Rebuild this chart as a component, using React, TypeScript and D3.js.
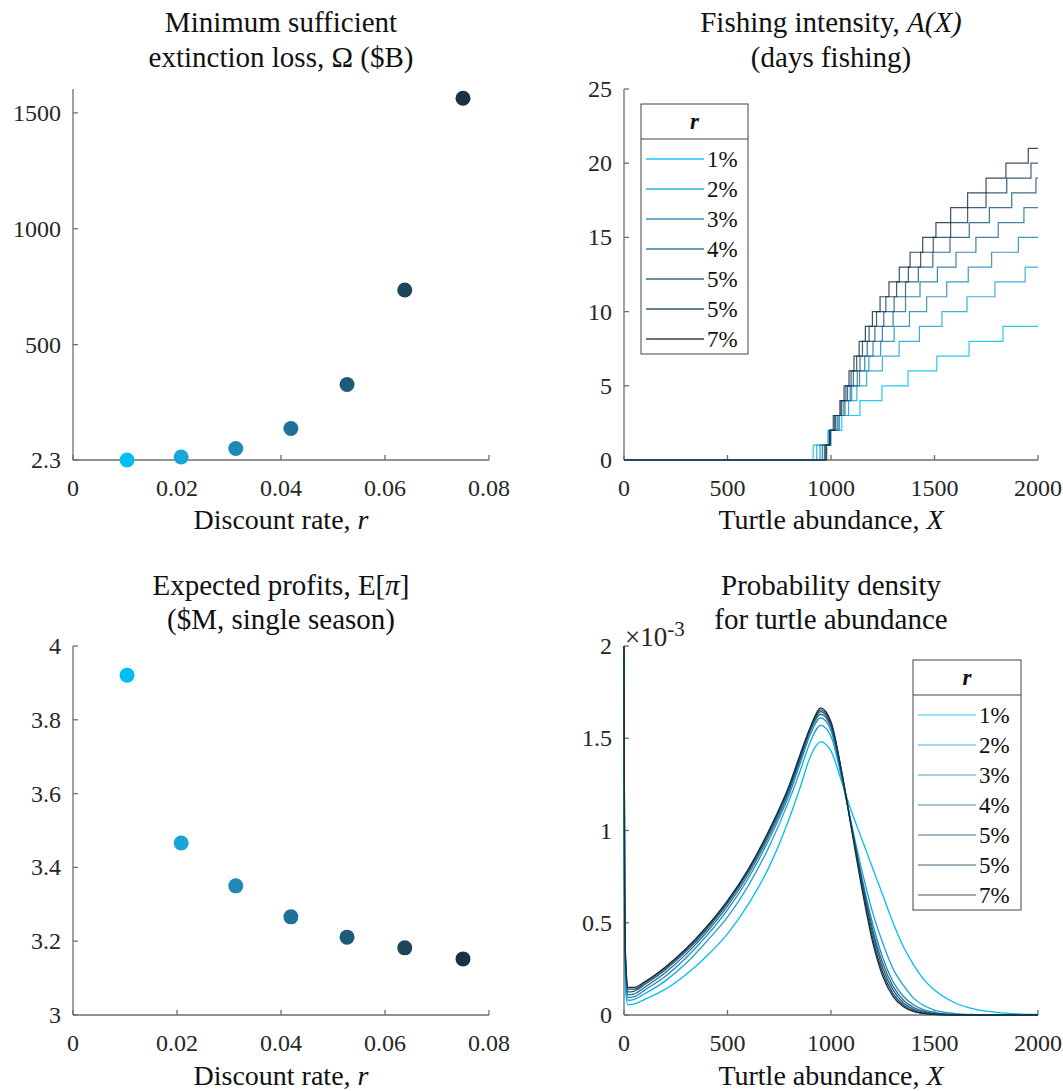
import React from 'react';
import * as d3 from 'd3';

const rateLabels = ['1%', '2%', '3%', '4%', '5%', '5%', '7%'];
const seriesColors = ['#00BEF2', '#1AA4D8', '#1F8AB6', '#207197', '#1F5A78', '#1D455C', '#1B3142'];

// Top-left: minimum sufficient extinction loss
const omegaRates = [0.0104, 0.0208, 0.0313, 0.0419, 0.0527, 0.0638, 0.075];
const omegaValues = [2.3, 15, 52, 138, 328, 736, 1563];
const omegaTicks = [2.3, 500, 1000, 1500];

// Bottom-left: expected profits
const profitRates = [0.0104, 0.0208, 0.0313, 0.0419, 0.0527, 0.0638, 0.075];
const profitValues = [3.921, 3.466, 3.35, 3.266, 3.211, 3.182, 3.152];
const profitTicks = [3, 3.2, 3.4, 3.6, 3.8, 4];
const rateTicks = [0, 0.02, 0.04, 0.06, 0.08];

// Top-right: fishing intensity step thresholds (X at which A(X) rises by one day)
const steps1 = [914, 985, 1052, 1140, 1246, 1372, 1511, 1667, 1831];
const steps2 = [931, 990, 1040, 1085, 1125, 1172, 1248, 1329, 1427, 1536, 1657, 1792, 1938];
const steps3 = [947, 1000, 1038, 1068, 1100, 1138, 1183, 1240, 1305, 1379, 1462, 1559, 1663, 1776, 1905];
const steps4 = [958, 997, 1030, 1062, 1093, 1127, 1163, 1203, 1248, 1300, 1360, 1430, 1514, 1604, 1700, 1808, 1932];
const steps5 = [968, 994, 1022, 1052, 1080, 1108, 1140, 1175, 1212, 1255, 1305, 1360, 1422, 1492, 1575, 1668, 1765, 1873, 1990];
const steps6 = [974, 992, 1018, 1048, 1072, 1097, 1124, 1152, 1184, 1220, 1265, 1317, 1374, 1433, 1494, 1578, 1660, 1749, 1849, 1966];
const steps7 = [979, 995, 1011, 1043, 1063, 1087, 1111, 1136, 1166, 1200, 1237, 1280, 1330, 1382, 1443, 1507, 1578, 1660, 1749, 1845, 1953];
const allSteps = [steps1, steps2, steps3, steps4, steps5, steps6, steps7];
const abundanceTicks = [0, 500, 1000, 1500, 2000];
const intensityTicks = [0, 5, 10, 15, 20, 25];

// Bottom-right: probability density (x10^-3)
const densityX = [0, 3, 8, 20, 50, 100, 200, 300, 400, 500, 600, 700, 800, 850, 900, 950, 1000, 1050, 1100, 1150, 1200, 1250, 1300, 1350, 1400, 1450, 1500, 1600, 1700, 1800, 1900, 2000];
const density1 = [2.0, 0.45, 0.12, 0.055, 0.06, 0.085, 0.14, 0.22, 0.32, 0.44, 0.6, 0.8, 1.07, 1.23, 1.4, 1.48, 1.43, 1.27, 1.1, 0.95, 0.8, 0.65, 0.5, 0.37, 0.27, 0.19, 0.135, 0.065, 0.03, 0.014, 0.006, 0.003];
const density2 = [2.0, 0.55, 0.18, 0.08, 0.085, 0.115, 0.185, 0.28, 0.4, 0.53, 0.7, 0.91, 1.17, 1.32, 1.48, 1.57, 1.51, 1.29, 1.03, 0.78, 0.56, 0.39, 0.25, 0.16, 0.09, 0.05, 0.027, 0.008, 0.002, 0.0, 0.0, 0.0];
const density3 = [2.0, 0.6, 0.22, 0.095, 0.1, 0.135, 0.21, 0.31, 0.43, 0.57, 0.74, 0.95, 1.2, 1.36, 1.52, 1.61, 1.54, 1.3, 1.02, 0.74, 0.5, 0.31, 0.18, 0.1, 0.054, 0.028, 0.014, 0.003, 0.001, 0.0, 0.0, 0.0];
const density4 = [2.0, 0.65, 0.25, 0.11, 0.115, 0.15, 0.23, 0.33, 0.45, 0.59, 0.76, 0.97, 1.22, 1.38, 1.54, 1.63, 1.56, 1.31, 1.02, 0.73, 0.47, 0.28, 0.155, 0.08, 0.04, 0.02, 0.009, 0.002, 0.0, 0.0, 0.0, 0.0];
const density5 = [2.0, 0.67, 0.27, 0.125, 0.13, 0.165, 0.245, 0.345, 0.465, 0.605, 0.775, 0.985, 1.235, 1.39, 1.55, 1.645, 1.57, 1.32, 1.015, 0.72, 0.45, 0.255, 0.135, 0.065, 0.03, 0.014, 0.006, 0.001, 0.0, 0.0, 0.0, 0.0];
const density6 = [2.0, 0.69, 0.29, 0.14, 0.14, 0.175, 0.255, 0.355, 0.475, 0.615, 0.785, 0.995, 1.245, 1.4, 1.555, 1.655, 1.58, 1.325, 1.01, 0.7, 0.42, 0.23, 0.115, 0.053, 0.022, 0.009, 0.004, 0.001, 0.0, 0.0, 0.0, 0.0];
const density7 = [2.0, 0.7, 0.3, 0.15, 0.15, 0.18, 0.26, 0.36, 0.48, 0.62, 0.79, 1.0, 1.25, 1.41, 1.56, 1.665, 1.59, 1.33, 1.0, 0.68, 0.4, 0.21, 0.1, 0.045, 0.018, 0.007, 0.003, 0.0, 0.0, 0.0, 0.0, 0.0];
const allDensity = [density1, density2, density3, density4, density5, density6, density7];
const densityTicks = [0, 0.5, 1, 1.5, 2];

const FONT = "'Liberation Serif', 'Times New Roman', serif";
const AXIS = '#6e6e6e';
const TEXT = '#262626';
const TICK_FS = 24;
const TITLE_FS = 29;
const LABEL_FS = 28;

type AxisProps = {
  x: d3.ScaleLinear<number, number>;
  y: d3.ScaleLinear<number, number>;
  xTicks: number[];
  yTicks: number[];
  xFmt: (v: number) => string;
  yFmt: (v: number) => string;
};

function Axes({ x, y, xTicks, yTicks, xFmt, yFmt }: AxisProps) {
  const [x0, x1] = x.range();
  const [y0, y1] = y.range();
  return (
    <g>
      <line x1={x0} x2={x1} y1={y0} y2={y0} stroke={AXIS} strokeWidth={1.3} />
      <line x1={x0} x2={x0} y1={y0} y2={y1} stroke={AXIS} strokeWidth={1.3} />
      {xTicks.map((t) => (
        <g key={'x' + t}>
          <line x1={x(t)} x2={x(t)} y1={y0} y2={y0 - 5} stroke={AXIS} strokeWidth={1.3} />
          <text x={x(t)} y={y0 + 36} textAnchor="middle" fontSize={TICK_FS} fill={TEXT} fontFamily={FONT}>
            {xFmt(t)}
          </text>
        </g>
      ))}
      {yTicks.map((t) => (
        <g key={'y' + t}>
          <line x1={x0} x2={x0 + 5} y1={y(t)} y2={y(t)} stroke={AXIS} strokeWidth={1.3} />
          <text x={x0 - 12} y={y(t) + 8} textAnchor="end" fontSize={TICK_FS} fill={TEXT} fontFamily={FONT}>
            {yFmt(t)}
          </text>
        </g>
      ))}
    </g>
  );
}

function Legend({ x, y, w, lineOpacity }: { x: number; y: number; w: number; lineOpacity: number }) {
  const headerH = 35;
  const rowH = 30;
  const h = headerH + rowH * rateLabels.length + 5;
  return (
    <g>
      <rect x={x} y={y} width={w} height={h} fill="#fff" stroke="#444" strokeWidth={1} />
      <line x1={x} x2={x + w} y1={y + headerH} y2={y + headerH} stroke="#444" strokeWidth={1} />
      <text x={x + w / 2} y={y + 25} textAnchor="middle" fontSize={23} fontWeight="bold" fontStyle="italic" fontFamily={FONT} fill="#111">
        r
      </text>
      {rateLabels.map((lab, i) => {
        const cy = y + headerH + 20 + i * rowH;
        return (
          <g key={i}>
            <line x1={x + 5} x2={x + 63} y1={cy} y2={cy} stroke={seriesColors[i]} strokeOpacity={lineOpacity} strokeWidth={1.4} />
            <text x={x + 66} y={cy + 8} fontSize={23} fontFamily={FONT} fill="#111">
              {lab}
            </text>
          </g>
        );
      })}
    </g>
  );
}

export default function App() {
  const L = { x0: 73, x1: 489 };
  const R = { x0: 624, x1: 1038 };
  const T = { y0: 460, y1: 89 };
  const B = { y0: 1015, y1: 646 };

  const xRateTop = d3.scaleLinear().domain([0, 0.08]).range([L.x0, L.x1]);
  const yOmega = d3.scaleLinear().domain([2.3, 1603]).range([T.y0, T.y1]);
  const xRateBot = d3.scaleLinear().domain([0, 0.08]).range([L.x0, L.x1]);
  const yProfit = d3.scaleLinear().domain([3, 4]).range([B.y0, B.y1]);
  const xAbTop = d3.scaleLinear().domain([0, 2000]).range([R.x0, R.x1]);
  const yInt = d3.scaleLinear().domain([0, 25]).range([T.y0, T.y1]);
  const xAbBot = d3.scaleLinear().domain([0, 2000]).range([R.x0, R.x1]);
  const yDen = d3.scaleLinear().domain([0, 2]).range([B.y0, B.y1]);

  const stepLine = d3
    .line<[number, number]>()
    .x((d) => xAbTop(d[0]))
    .y((d) => yInt(d[1]))
    .curve(d3.curveStepAfter);

  const denLine = d3
    .line<[number, number]>()
    .x((d) => xAbBot(d[0]))
    .y((d) => yDen(d[1]))
    .curve(d3.curveMonotoneX);

  const rateFmt = (v: number) => (v === 0 ? '0' : String(v));
  const plain = (v: number) => String(v);

  const titleText = (cx: number, y: number, content: React.ReactNode, fs: number = TITLE_FS) => (
    <text x={cx} y={y} textAnchor="middle" fontSize={fs} fontFamily={FONT} fill="#111">
      {content}
    </text>
  );

  return (
    <svg width={1063} height={1091} style={{ position: 'absolute', left: 0, top: 0, background: '#fff' }}>
      <rect x={0} y={0} width={1063} height={1091} fill="#fff" />

      {/* Top-left */}
      {titleText(281, 32, 'Minimum sufficient')}
      {titleText(281, 67, 'extinction loss, Ω ($B)')}
      <Axes x={xRateTop} y={yOmega} xTicks={rateTicks} yTicks={omegaTicks} xFmt={rateFmt} yFmt={plain} />
      {omegaValues.map((v, i) => (
        <circle key={i} cx={xRateTop(omegaRates[i])} cy={yOmega(v)} r={7.5} fill={seriesColors[i]} />
      ))}
      {titleText(281, 529, <>Discount rate, <tspan fontStyle="italic">r</tspan></>, LABEL_FS)}

      {/* Top-right */}
      {titleText(831, 32, <>Fishing intensity, <tspan fontStyle="italic">A(X)</tspan></>)}
      {titleText(831, 67, '(days fishing)')}
      <Axes x={xAbTop} y={yInt} xTicks={abundanceTicks} yTicks={intensityTicks} xFmt={plain} yFmt={plain} />
      {allSteps.map((s, i) => {
        const pts: [number, number][] = [[0, 0]];
        s.forEach((t, k) => pts.push([t, k + 1]));
        pts.push([2000, s.length]);
        return (
          <path key={i} d={stepLine(pts) || ''} fill="none" stroke={seriesColors[i]} strokeOpacity={0.85} strokeWidth={1.2} />
        );
      })}
      <Legend x={641} y={104} w={107} lineOpacity={0.9} />
      {titleText(831, 529, <>Turtle abundance, <tspan fontStyle="italic">X</tspan></>, LABEL_FS)}

      {/* Bottom-left */}
      {titleText(281, 595, <>Expected profits, E[<tspan fontStyle="italic">π</tspan>]</>)}
      {titleText(281, 629, '($M, single season)')}
      <Axes x={xRateBot} y={yProfit} xTicks={rateTicks} yTicks={profitTicks} xFmt={rateFmt} yFmt={plain} />
      {profitValues.map((v, i) => (
        <circle key={i} cx={xRateBot(profitRates[i])} cy={yProfit(v)} r={7.5} fill={seriesColors[i]} />
      ))}
      {titleText(281, 1085, <>Discount rate, <tspan fontStyle="italic">r</tspan></>, LABEL_FS)}

      {/* Bottom-right */}
      {titleText(831, 595, 'Probability density')}
      {titleText(831, 629, 'for turtle abundance')}
      <Axes x={xAbBot} y={yDen} xTicks={abundanceTicks} yTicks={densityTicks} xFmt={plain} yFmt={plain} />
      {allDensity.map((dv, i) => {
        const pts: [number, number][] = densityX.map((xv, k) => [xv, dv[k]]);
        return <path key={i} d={denLine(pts) || ''} fill="none" stroke={seriesColors[i]} strokeWidth={1.3} />;
      })}
      <text x={625} y={646} fontSize={27} fontFamily={FONT} fill={TEXT}>
        ×10<tspan dy={-10} fontSize={21}>-3</tspan>
      </text>
      <Legend x={913} y={660} w={108} lineOpacity={0.55} />
      {titleText(831, 1085, <>Turtle abundance, <tspan fontStyle="italic">X</tspan></>, LABEL_FS)}
    </svg>
  );
}
